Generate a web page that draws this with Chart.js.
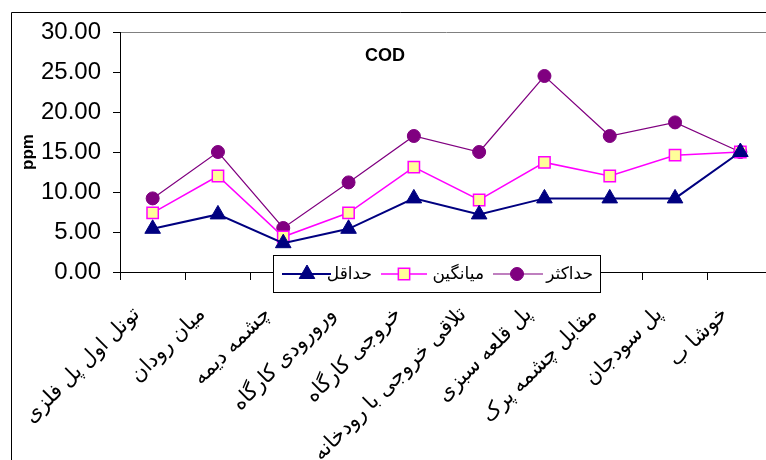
<!DOCTYPE html>
<html>
<head>
<meta charset="utf-8">
<script src="https://cdn.jsdelivr.net/npm/chart.js@4.4.0/dist/chart.umd.min.js"></script>
<style>
html,body{margin:0;padding:0;background:#fff;overflow:hidden;}
#wrap{position:relative;width:766px;height:460px;overflow:hidden;}
canvas{position:absolute;left:0;top:0;}
</style>
</head>
<body>
<div id="wrap"><canvas id="c" width="790" height="460"></canvas></div>
<script>
const categories = ["تونل اول پل فلزی","میان رودان","چشمه دیمه","ورورودی کارگاه","خروجی کارگاه","تلاقی خروجی با رودخانه","پل قلعه سبزی","مقابل چشمه پرک","پل سودجان","خوشا ب"];
const minValues = [5.4, 7.2, 3.6, 5.4, 9.2, 7.2, 9.2, 9.2, 9.2, 15.0];
const avgValues = [7.4, 12.0, 4.4, 7.4, 13.1, 9.0, 13.7, 12.0, 14.6, 15.0];
const maxValues = [9.2, 15.0, 5.5, 11.2, 17.0, 15.0, 24.5, 17.0, 18.7, 15.0];
const seriesNames = ["حداقل","میانگین","حداکثر"];
const yTicks = [0,5,10,15,20,25,30];

const FONT = "Arial, 'Liberation Sans', 'DejaVu Sans', sans-serif";

const decor = {
  id:'decor',
  beforeDraw(chart){
    const ctx = chart.ctx;
    ctx.save();
    ctx.fillStyle='#fff';
    ctx.fillRect(0,0,chart.width,chart.height);
    ctx.strokeStyle='#000';
    ctx.lineWidth=1;
    ctx.beginPath();
    ctx.moveTo(11.5,460); ctx.lineTo(11.5,12.5); ctx.lineTo(790,12.5);
    ctx.stroke();
    const a = chart.chartArea;
    ctx.strokeStyle='#808080';
    ctx.beginPath();
    ctx.moveTo(a.left, a.top+0.5); ctx.lineTo(a.right, a.top+0.5);
    ctx.stroke();
    ctx.restore();
  },
  afterDraw(chart){
    const ctx = chart.ctx;
    ctx.save();
    ctx.font = "bold 18px " + FONT;
    ctx.fillStyle='#000';
    ctx.textAlign='center';
    ctx.textBaseline='middle';
    ctx.fillText("COD", 385, 56);
    const bx=273.5, by=255.5, bw=327, bh=37;
    ctx.fillStyle='#fff';
    ctx.fillRect(bx,by,bw,bh);
    ctx.strokeStyle='#000';
    ctx.lineWidth=1;
    ctx.strokeRect(bx,by,bw,bh);
    const cy = by + bh/2;
    const items = [
      {x0:282,x1:331,mx:307,tx:372},
      {x0:381,x1:427,mx:404,tx:484},
      {x0:493,x1:543,mx:517,tx:593}
    ];
    chart.data.datasets.forEach((ds,i)=>{
      const it = items[i];
      ctx.strokeStyle = ds.borderColor;
      ctx.lineWidth = ds.borderWidth;
      ctx.beginPath(); ctx.moveTo(it.x0,cy); ctx.lineTo(it.x1,cy); ctx.stroke();
      ctx.fillStyle = ds.pointBackgroundColor;
      ctx.strokeStyle = ds.pointBorderColor;
      ctx.lineWidth = ds.pointBorderWidth;
      Chart.helpers.drawPoint(ctx,{pointStyle:ds.pointStyle,radius:ds.pointRadius,rotation:0,borderWidth:ds.pointBorderWidth},it.mx,cy);
      ctx.fillStyle='#000';
      ctx.font = "17px " + FONT;
      ctx.textAlign='right';
      ctx.textBaseline='middle';
      ctx.fillText(ds.label, it.tx, cy);
    });
    ctx.restore();
  }
};

new Chart(document.getElementById('c'),{
  type:'line',
  data:{
    labels:categories,
    datasets:[
      {label:seriesNames[0],data:minValues,borderColor:'#000080',borderWidth:2,pointStyle:'triangle',pointRadius:9,pointBackgroundColor:'#000080',pointBorderColor:'#000080',pointBorderWidth:1,tension:0},
      {label:seriesNames[1],data:avgValues,borderColor:'#FF00FF',borderWidth:1.5,pointStyle:'rect',pointRadius:8,pointBackgroundColor:'#FFFF99',pointBorderColor:'#FF00FF',pointBorderWidth:1.5,tension:0},
      {label:seriesNames[2],data:maxValues,borderColor:'#800080',borderWidth:1.2,pointStyle:'circle',pointRadius:6.5,pointBackgroundColor:'#800080',pointBorderColor:'#800080',pointBorderWidth:1,tension:0}
    ]
  },
  options:{
    responsive:false,
    animation:false,
    layout:{padding:{left:12,top:32,right:17,bottom:0}},
    plugins:{legend:{display:false},title:{display:false},tooltip:{enabled:false}},
    scales:{
      x:{
        type:'category',
        offset:true,
        grid:{offset:true,drawOnChartArea:false,drawTicks:true,tickLength:8,color:'#000',tickColor:'#000'},
        border:{display:true,color:'#000',width:1},
        ticks:{minRotation:45,maxRotation:45,autoSkip:false,color:'#000',font:{size:21,family:FONT},padding:22,labelOffset:-16},
        afterFit(s){ s.height = 188; }
      },
      y:{
        min:0,max:30,
        afterBuildTicks(s){ s.ticks = yTicks.map(v=>({value:v})); },
        grid:{drawOnChartArea:false,drawTicks:true,tickLength:7,color:'#000',tickColor:'#000'},
        border:{display:true,color:'#000',width:1},
        ticks:{color:'#000',font:{size:24,family:FONT},padding:12,callback:v=>Number(v).toFixed(2)},
        title:{display:true,text:'ppm',color:'#000',font:{size:17,weight:'bold',family:FONT},padding:{top:6,bottom:0}},
        afterFit(s){ s.width = 108; }
      }
    }
  },
  plugins:[decor]
});
</script>
</body>
</html>
